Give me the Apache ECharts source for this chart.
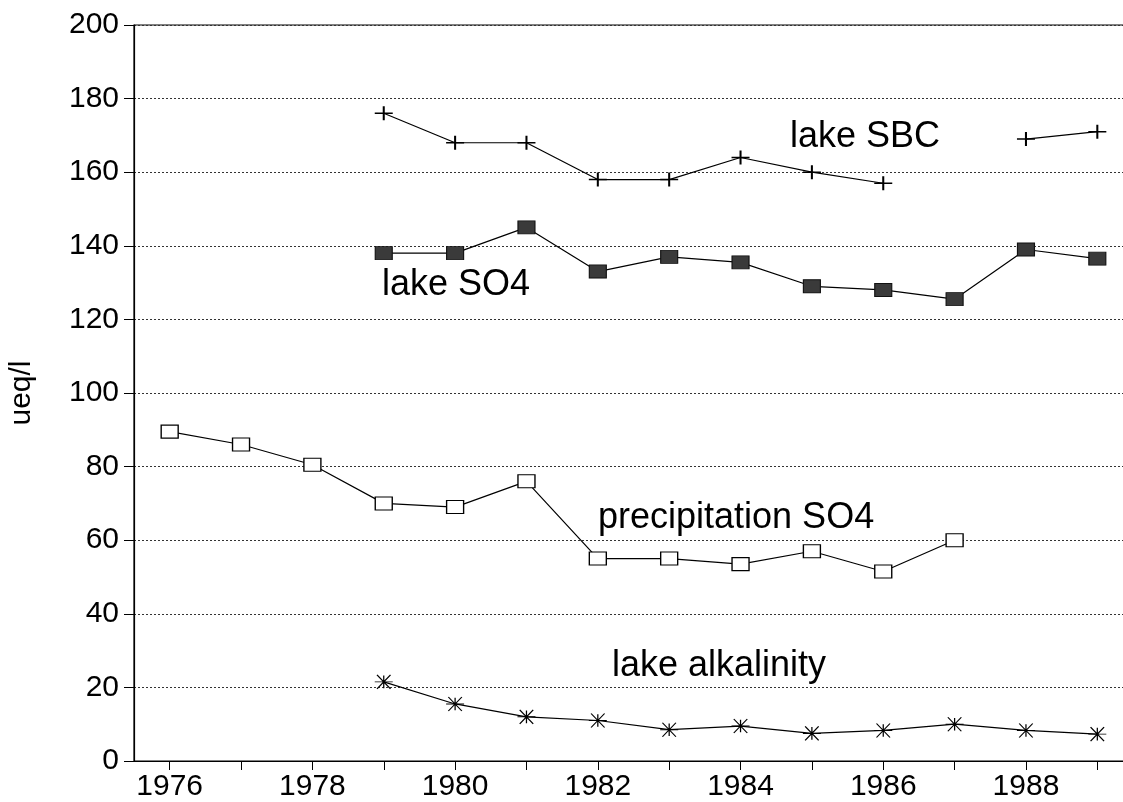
<!DOCTYPE html>
<html>
<head>
<meta charset="utf-8">
<script src="https://cdn.jsdelivr.net/npm/echarts@6/dist/echarts.min.js"></script>
<style>html,body{margin:0;padding:0;background:#fff;}#chart{width:1123px;height:802px;}</style>
</head>
<body>
<div id="chart"></div>
<script>
const years = ['1976','1977','1978','1979','1980','1981','1982','1983','1984','1985','1986','1987','1988','1989'];
const yTicks = [0, 20, 40, 60, 80, 100, 120, 140, 160, 180, 200];
const lakeSBC = [null, null, null, 176, 168, 168, 158, 158, 164, 160, 157, null, 169, 171];
const lakeSO4 = [null, null, null, 138, 138, 145, 133, 137, 135.5, 129, 128, 125.5, 139, 136.5];
const precipSO4 = [89.5, 86, 80.5, 70, 69, 76, 55, 55, 53.5, 57, 51.5, 60, null, null];
const lakeAlk = [null, null, null, 21.5, 15.5, 12, 11, 8.5, 9.5, 7.5, 8.3, 10, 8.3, 7.3];
const yName = 'ueq/l';
const labels = [
  {text: 'lake SBC', x: 790, y: 147},
  {text: 'lake SO4', x: 382, y: 295},
  {text: 'precipitation SO4', x: 598, y: 528},
  {text: 'lake alkalinity', x: 612, y: 676}
];

const FONT = '"Liberation Sans", Arial, sans-serif';
const plusPath = 'path://M-1,0L1,0M0,-1L0,1';
const starPath = 'path://M-1,0L1,0M-0.75,-1L0.75,1M-0.75,1L0.75,-1M0,-0.9L0,0.9';

const chart = echarts.init(document.getElementById('chart'), null, {renderer: 'canvas'});
function lineSeries(name, data, symbol, size, itemStyle) {
  return {
    name, type: 'line', data, symbol, symbolSize: size,
    connectNulls: false, showAllSymbol: true,
    lineStyle: {color: '#000', width: 1.2},
    itemStyle: itemStyle,
    emphasis: {disabled: true},
    animation: false, z: 3
  };
}
chart.setOption({
  backgroundColor: '#fff',
  animation: false,
  grid: {left: 134, right: -10, top: 25, bottom: 41, containLabel: false, outerBoundsMode: 'none',
    show: true, borderColor: '#000', borderWidth: 1.2, backgroundColor: 'transparent'},
  xAxis: {
    type: 'category', data: years, boundaryGap: true,
    axisLine: {lineStyle: {color: '#000', width: 1.2}},
    axisTick: {show: true, alignWithLabel: true, interval: 0, length: 9, inside: false, lineStyle: {color: '#000', width: 1}},
    axisLabel: {interval: 1, color: '#000', fontSize: 30, fontFamily: FONT, margin: 11},
    splitLine: {show: false}
  },
  yAxis: {
    type: 'value', min: 0, max: 200, interval: 20,
    name: yName, nameLocation: 'middle', nameGap: 97, nameRotate: 90,
    nameTextStyle: {color: '#000', fontSize: 30, fontFamily: FONT},
    axisLine: {show: true, lineStyle: {color: '#000', width: 1.2}},
    axisTick: {show: true, length: 10, lineStyle: {color: '#000', width: 1}},
    axisLabel: {color: '#000', fontSize: 30, fontFamily: FONT, margin: 15,
      formatter: v => yTicks.includes(v) ? String(v) : ''},
    splitLine: {show: true, lineStyle: {color: '#333', type: [2, 2], width: 1}}
  },
  series: [
    lineSeries('lake SBC', lakeSBC, plusPath, [18, 14], {color: 'none', borderColor: '#000', borderWidth: 1.8}),
    lineSeries('lake SO4', lakeSO4, 'rect', [17, 13], {color: '#3a3a3a', borderColor: '#111', borderWidth: 1}),
    lineSeries('precipitation SO4', precipSO4, 'rect', [17, 13], {color: '#fff', borderColor: '#000', borderWidth: 1.2}),
    lineSeries('lake alkalinity', lakeAlk, starPath, [18, 14], {color: 'none', borderColor: '#000', borderWidth: 1.1})
  ],
  graphic: labels.map(l => ({
    type: 'text', left: l.x, top: l.y - 28, z: 10, silent: true,
    style: {text: l.text, fill: '#000', font: '36px ' + FONT}
  }))
});
</script>
</body>
</html>
